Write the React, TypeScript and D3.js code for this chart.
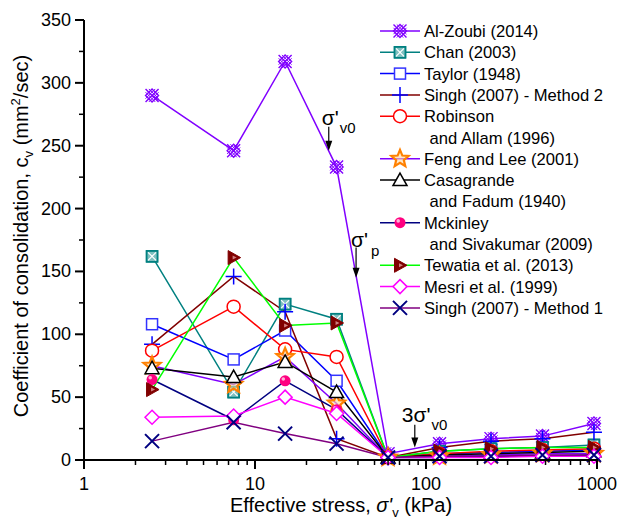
import React from "react";
import * as d3 from "d3";

// effective stress (kPa) for each load step
const stress = [2.5, 7.5, 15, 30, 60, 120, 240, 480, 960];

// cv (mm2/sec) per method
const alZoubi = [290, 246, 317, 233, 5, 13, 17, 19, 29];
const chan = [162, 54, 124, 112, 2, 7, 9, 10, 12];
const taylor = [108, 80, 103, 63, 2, 5, 6, 7, 8];
const singh2 = [92, 146, 118, 17, 2, 10, 15, 17, 22];
const robinson = [87, 122, 88, 82, 2, 5, 7, 8, 9];
const feng = [75, 60, 82, 45, 2, 3, 4, 5, 5];
const casagrande = [73, 66, 78, 54, 2, 4, 5, 6, 7];
const mckinley = [64, 32, 63, 40, 2, 2, 3, 3, 4];
const tewatia = [56, 161, 107, 109, 2, 7, 9, 10, 10];
const mesri = [34, 35, 50, 37, 2, 2, 2, 3, 3];
const singh1 = [15, 30, 21, 13, 2, 3, 3, 4, 4];

const yTicks = [0, 50, 100, 150, 200, 250, 300, 350];
const xTicks = [1, 10, 100, 1000];

type Sym = "hatch" | "boxx" | "square" | "plus" | "circle" | "star" | "tri" | "ball" | "rtri" | "diamond" | "x";

const series: { name: string[]; values: number[]; line: string; sym: Sym; mark: string }[] = [
  { name: ["Al-Zoubi (2014)"], values: alZoubi, line: "#8000ff", sym: "hatch", mark: "#8000ff" },
  { name: ["Chan (2003)"], values: chan, line: "#008080", sym: "boxx", mark: "#008080" },
  { name: ["Taylor (1948)"], values: taylor, line: "#0000ff", sym: "square", mark: "#3333ff" },
  { name: ["Singh (2007) - Method 2"], values: singh2, line: "#800000", sym: "plus", mark: "#0000ff" },
  { name: ["Robinson", " and Allam (1996)"], values: robinson, line: "#ff0000", sym: "circle", mark: "#ff0000" },
  { name: ["Feng and Lee (2001)"], values: feng, line: "#8000ff", sym: "star", mark: "#ff8000" },
  { name: ["Casagrande", " and Fadum (1940)"], values: casagrande, line: "#000000", sym: "tri", mark: "#000000" },
  { name: ["Mckinley", " and Sivakumar (2009)"], values: mckinley, line: "#000080", sym: "ball", mark: "#ff0080" },
  { name: ["Tewatia et al. (2013)"], values: tewatia, line: "#00ff00", sym: "rtri", mark: "#800000" },
  { name: ["Mesri et al. (1999)"], values: mesri, line: "#ff00ff", sym: "diamond", mark: "#ff00ff" },
  { name: ["Singh (2007) - Method 1"], values: singh1, line: "#800080", sym: "x", mark: "#000080" },
];

// annotation arrows: [stress, cv top, cv tip]
const sv0Arrow = [27, 265, 246];
const spArrow = [39, 169, 145];
const s3Arrow = [86, 28, 10];

const W = 617;
const H = 519;
const FONT = "'Liberation Sans', Arial, sans-serif";

function Marker({ sym, x, y, c }: { sym: Sym; x: number; y: number; c: string }) {
  const t = `translate(${x},${y})`;
  switch (sym) {
    case "hatch":
      return (
        <g transform={t} stroke={c} strokeWidth={1.4} fill="none">
          <path d="M-6.5,-6.5L6.5,6.5M-6.5,6.5L6.5,-6.5" />
          <path d="M0,-6.5L6.5,0L0,6.5L-6.5,0Z" />
          <path d="M-3.2,-6.5L6.5,3.2M-6.5,-3.2L3.2,6.5M3.2,-6.5L-6.5,3.2M6.5,-3.2L-3.2,6.5" strokeWidth={1} />
        </g>
      );
    case "boxx":
      return (
        <g transform={t} stroke={c} strokeWidth={1.5}>
          <rect x={-5.5} y={-5.5} width={11} height={11} fill="#7fc0c0" />
          <path d="M-4,-4L4,4M-4,4L4,-4" stroke="#ffffff" strokeWidth={1.2} />
          <rect x={-5.5} y={-5.5} width={11} height={11} fill="none" />
        </g>
      );
    case "square":
      return <rect x={x - 5.5} y={y - 5.5} width={11} height={11} fill="#ffffff" stroke={c} strokeWidth={1.5} />;
    case "plus":
      return <path transform={t} d="M-8,0H8M0,-8V8" stroke={c} strokeWidth={1.5} fill="none" />;
    case "circle":
      return <circle cx={x} cy={y} r={6.5} fill="#ffffff" stroke={c} strokeWidth={1.5} />;
    case "star": {
      const pts = d3.range(10).map((i) => {
        const r = i % 2 === 0 ? 9 : 4;
        const a = (Math.PI / 5) * i - Math.PI / 2;
        return [r * Math.cos(a), r * Math.sin(a)];
      });
      return (
        <path transform={t} d={"M" + pts.map((p) => p.join(",")).join("L") + "Z"} fill="#ffd8a0" fillOpacity={0.6} stroke={c} strokeWidth={2.2} />
      );
    }
    case "tri":
      return <path transform={t} d="M0,-7L7,5.5L-7,5.5Z" fill="#ffffff" stroke={c} strokeWidth={1.5} />;
    case "ball":
      return (
        <g transform={t}>
          <circle r={5.5} fill={c} />
          <circle cx={-1.8} cy={-1.8} r={1.8} fill="#ffb0d8" />
        </g>
      );
    case "rtri":
      return (
        <g transform={t}>
          <path d="M-5.5,-7L7,0L-5.5,7Z" fill={c} stroke={c} strokeWidth={1} />
          <path d="M-1,-2L3,0L-1,2Z" fill="#d08080" />
        </g>
      );
    case "diamond":
      return <path transform={t} d="M0,-7L7,0L0,7L-7,0Z" fill="#ffffff" stroke={c} strokeWidth={1.5} />;
    case "x":
      return <path transform={t} d="M-7,-7L7,7M-7,7L7,-7" stroke={c} strokeWidth={2} fill="none" />;
  }
  return null;
}

function Arrow({ x, y1, y2 }: { x: number; y1: number; y2: number }) {
  return (
    <g>
      <line x1={x} x2={x} y1={y1} y2={y2 - 8} stroke="#000" strokeWidth={1.2} />
      <path d={`M${x - 3.5},${y2 - 10}L${x + 3.5},${y2 - 10}L${x},${y2}Z`} fill="#000" />
    </g>
  );
}

export default function App() {
  const x = d3.scaleLog().domain([1, 1000]).range([84, 597]);
  const y = d3.scaleLinear().domain([0, 350]).range([460, 20]);
  const line = d3
    .line<number>()
    .x((_, i) => x(stress[i]))
    .y((d) => y(d));

  const minorX: number[] = [];
  for (const dec of [1, 10, 100]) for (let k = 2; k <= 9; k++) minorX.push(dec * k);
  const minorY = d3.range(25, 350, 50);

  // legend rows, names that wrap take two rows
  let row = 0;
  const legendRows = series.map((s) => {
    const r = row;
    row += s.name.length;
    return r;
  });
  const ly = (r: number) => 31 + r * 21.3;

  return (
    <svg width={W} height={H} style={{ position: "absolute", left: 0, top: 0, background: "#fff" }} fontFamily={FONT}>
      {/* series lines */}
      {series.map((s, i) => (
        <path key={"l" + i} d={line(s.values) || ""} fill="none" stroke={s.line} strokeWidth={1.5} />
      ))}
      {/* markers */}
      {series.map((s, i) => (
        <g key={"m" + i}>
          {s.values.map((v, j) => (
            <Marker key={j} sym={s.sym} x={x(stress[j])} y={y(v)} c={s.mark} />
          ))}
        </g>
      ))}

      {/* axes */}
      <line x1={84} x2={84} y1={y(350)} y2={y(0) + 1} stroke="#000" strokeWidth={2} />
      <line x1={83} x2={x(1000) + 1} y1={y(0)} y2={y(0)} stroke="#000" strokeWidth={2} />
      {yTicks.map((t) => (
        <g key={"yt" + t}>
          <line x1={75} x2={84} y1={y(t)} y2={y(t)} stroke="#000" strokeWidth={2} />
          <text x={71} y={y(t) + 6} fontSize={18} textAnchor="end">
            {t}
          </text>
        </g>
      ))}
      {minorY.map((t) => (
        <line key={"ym" + t} x1={79} x2={84} y1={y(t)} y2={y(t)} stroke="#000" strokeWidth={1.5} />
      ))}
      {xTicks.map((t) => (
        <g key={"xt" + t}>
          <line x1={x(t)} x2={x(t)} y1={y(0)} y2={y(0) + 9} stroke="#000" strokeWidth={2} />
          <text x={x(t)} y={y(0) + 30} fontSize={18} textAnchor="middle">
            {t}
          </text>
        </g>
      ))}
      {minorX.map((t) => (
        <line key={"xm" + t} x1={x(t)} x2={x(t)} y1={y(0)} y2={y(0) + 5} stroke="#000" strokeWidth={1.5} />
      ))}

      {/* axis titles */}
      <text x={341} y={512} fontSize={20} textAnchor="middle">
        Effective stress, <tspan fontStyle="italic">σ'</tspan>
        <tspan fontSize={13} dy={5}>v</tspan>
        <tspan dy={-5}> (kPa)</tspan>
      </text>
      <text transform="translate(28,236) rotate(-90)" fontSize={20} textAnchor="middle">
        Coefficient of consolidation, c<tspan fontSize={13} dy={5}>v</tspan>
        <tspan dy={-5}> (mm</tspan>
        <tspan fontSize={13} dy={-8}>2</tspan>
        <tspan dy={8}>/sec)</tspan>
      </text>

      {/* annotations */}
      <text x={x(sv0Arrow[0]) - 7} y={y(sv0Arrow[1]) - 2} fontSize={21}>
        σ'<tspan fontSize={15} dx={1} dy={8}>v0</tspan>
      </text>
      <Arrow x={x(sv0Arrow[0])} y1={y(sv0Arrow[1])} y2={y(sv0Arrow[2])} />
      <text x={x(spArrow[0]) - 5} y={y(spArrow[1]) - 1} fontSize={21}>
        σ'<tspan fontSize={15} dx={3} dy={9}>p</tspan>
      </text>
      <Arrow x={x(spArrow[0])} y1={y(spArrow[1])} y2={y(spArrow[2])} />
      <text x={x(s3Arrow[0]) - 13} y={y(s3Arrow[1]) - 3} fontSize={21}>
        3σ'<tspan fontSize={15} dx={1} dy={8}>v0</tspan>
      </text>
      <Arrow x={x(s3Arrow[0])} y1={y(s3Arrow[1])} y2={y(s3Arrow[2])} />

      {/* legend */}
      {series.map((s, i) => {
        const yy = ly(legendRows[i]);
        return (
          <g key={"lg" + i}>
            <line x1={380} x2={420} y1={yy} y2={yy} stroke={s.line} strokeWidth={1.5} />
            <Marker sym={s.sym} x={400} y={yy} c={s.mark} />
            {s.name.map((n, k) => (
              <text key={k} x={424 + (k > 0 ? 1 : 0)} y={ly(legendRows[i] + k) + 6} fontSize={16.6} xmlSpace="preserve">
                {n}
              </text>
            ))}
          </g>
        );
      })}
    </svg>
  );
}
